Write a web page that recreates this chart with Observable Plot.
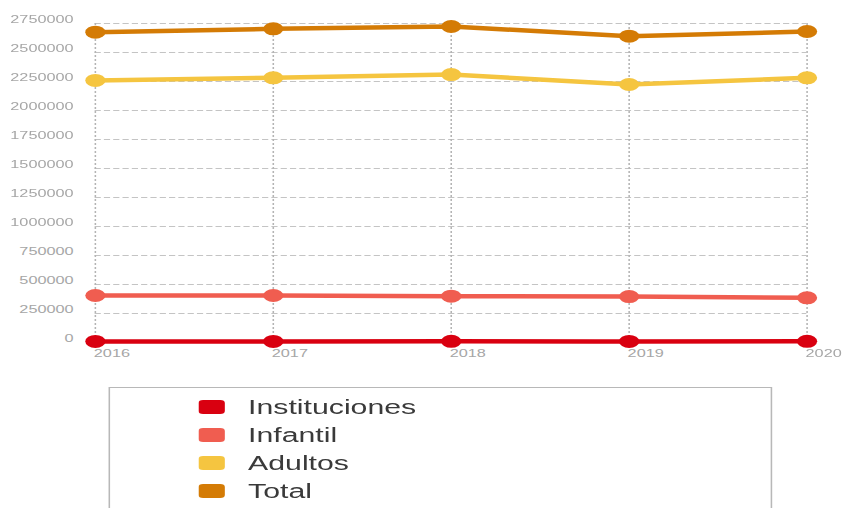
<!DOCTYPE html>
<html>
<head>
<meta charset="utf-8">
<script src="https://cdn.jsdelivr.net/npm/d3@7"></script>
<script src="https://cdn.jsdelivr.net/npm/@observablehq/plot@0.6"></script>
<style>
  html, body { margin: 0; padding: 0; background: #fff; overflow: hidden; }
  body { width: 842px; height: 508px; }
  #stretch { width: 543px; transform: scaleX(1.5506); transform-origin: 0 0; font-family: "Liberation Sans", Arial, sans-serif; }
  #chart svg { display: block; }
  .legend { margin-top: 15px; margin-left: 70px; width: 428px; height: 140px; border: 1px solid #b8b8b8; box-sizing: border-box; padding-top: 5px; }
  .item { display: flex; align-items: center; height: 28px; margin-left: 57px; }
  .sw { width: 17px; height: 14px; border-radius: 3px; margin-right: 15px; }
  .lbl { font-size: 19.5px; color: #3a3a3a; }
</style>
</head>
<body>
<div id="stretch">
  <div id="chart"></div>
  <div class="legend" id="legend"></div>
</div>
<script>
const years = [2016, 2017, 2018, 2019, 2020];
const seriesNames = ["Instituciones", "Infantil", "Adultos", "Total"];
const seriesColors = ["#d90010", "#f05d50", "#f5c540", "#d47b05"];
const instituciones = [9000, 9500, 9800, 9600, 9900];
const infantil = [405000, 405000, 399000, 396000, 385000];
const adultos = [2259000, 2282000, 2310000, 2224000, 2282000];
const total = [2675000, 2704000, 2724000, 2641000, 2681000];
const yTicks = [0, 250000, 500000, 750000, 1000000, 1250000, 1500000, 1750000, 2000000, 2250000, 2500000, 2750000];

const seriesValues = [instituciones, infantil, adultos, total];
const rows = [];
seriesNames.forEach((name, i) => {
  years.forEach((yr, j) => rows.push({serie: name, year: yr, value: seriesValues[i][j]}));
});

const drawOrder = ["Total", "Adultos", "Infantil", "Instituciones"];
const lineMarks = [];
drawOrder.forEach(name => {
  const data = rows.filter(r => r.serie === name);
  const c = seriesColors[seriesNames.indexOf(name)];
  lineMarks.push(Plot.line(data, {x: "year", y: "value", stroke: c, strokeWidth: 4.5}));
  lineMarks.push(Plot.dot(data, {x: "year", y: "value", fill: c, r: 6.5}));
});

const chart = Plot.plot({
  width: 543,
  height: 372,
  marginLeft: 61,
  marginRight: 23,
  marginTop: 23,
  marginBottom: 30,
  style: {fontFamily: "'Liberation Sans', Arial, sans-serif", fontSize: "10.5px", background: "white", overflow: "visible"},
  x: {domain: [2016, 2020], label: null},
  y: {domain: [0, 2750000], label: null},
  marks: [
    Plot.gridY(yTicks, {stroke: "#c4c4c4", strokeOpacity: 1, strokeDasharray: "4,2"}),
    Plot.gridX(years, {stroke: "#b4b4b4", strokeOpacity: 1, strokeDasharray: "2,2"}),
    Plot.axisY(yTicks, {tickSize: 0, tickPadding: 14, dy: -4, label: null, tickFormat: d => String(d), fill: "#a6a6a6"}),
    Plot.axisX(years, {tickSize: 0, tickPadding: 7, dx: -1, textAnchor: "start", label: null, tickFormat: d => String(d), fill: "#a6a6a6"}),
    ...lineMarks
  ]
});
document.getElementById("chart").append(chart);

const legend = document.getElementById("legend");
seriesNames.forEach((name, i) => {
  const it = document.createElement("div");
  it.className = "item";
  const sw = document.createElement("div");
  sw.className = "sw";
  sw.style.background = seriesColors[i];
  const lb = document.createElement("span");
  lb.className = "lbl";
  lb.textContent = name;
  it.append(sw, lb);
  legend.append(it);
});
</script>
</body>
</html>
